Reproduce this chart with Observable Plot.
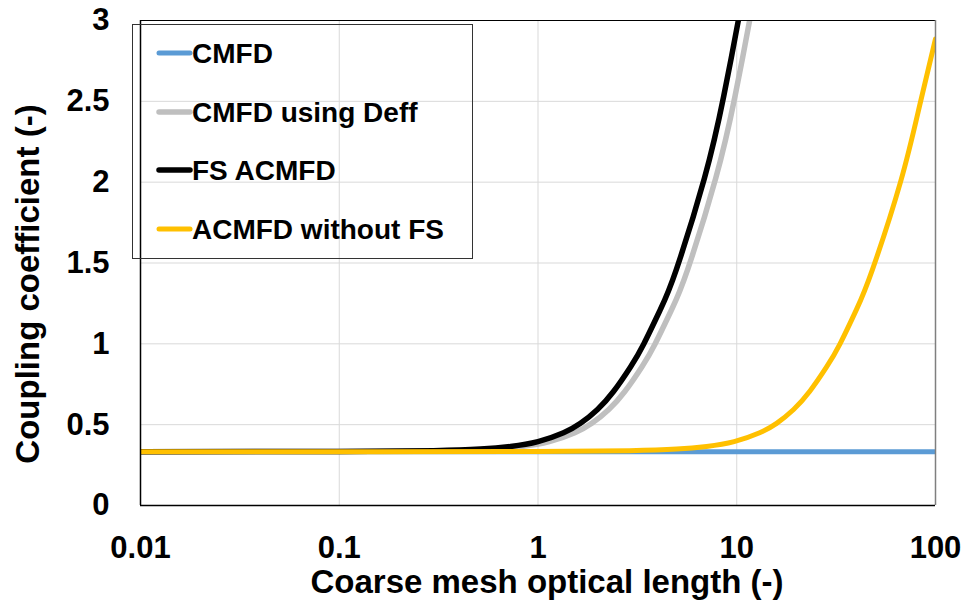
<!DOCTYPE html>
<html>
<head>
<meta charset="utf-8">
<script src="https://cdn.jsdelivr.net/npm/d3@7"></script>
<script src="https://cdn.jsdelivr.net/npm/@observablehq/plot@0.6"></script>
<style>
  html, body { margin: 0; padding: 0; background: #fff; }
  svg { display: block; }
</style>
</head>
<body>
<div id="chart"></div>
<script>
// ---- data ----
const xTicks = [0.01, 0.1, 1, 10, 100];
const xTickLabels = ["0.01", "0.1", "1", "10", "100"];
const yTicks = [0, 0.5, 1, 1.5, 2, 2.5, 3];
const yTickLabels = ["0", "0.5", "1", "1.5", "2", "2.5", "3"];

const seriesNames = ["CMFD", "CMFD using Deff", "FS ACMFD", "ACMFD without FS"];
const seriesColors = ["#5B9BD5", "#BFBFBF", "#000000", "#FFC000"];
const seriesWidths = [5, 5.5, 5.5, 5];

const cmfdX = [0.01, 0.1, 1, 10, 100];
const cmfdY = [0.333, 0.333, 0.333, 0.333, 0.333];

const deffX = [0.01, 0.114, 0.34, 0.586, 0.829, 1.14, 1.532, 1.865, 2.271, 2.734, 3.329, 3.887, 4.708, 5.666, 7.832, 9.804, 11.74, 12.54];
const deffY = [0.333, 0.334, 0.339, 0.349, 0.365, 0.395, 0.45, 0.508, 0.594, 0.705, 0.857, 1.001, 1.213, 1.461, 2.022, 2.532, 3.033, 3.24];

const fsX = [0.01, 0.1, 0.298, 0.514, 0.727, 1, 1.344, 1.636, 1.992, 2.398, 2.92, 3.41, 4.13, 4.97, 6.87, 8.6, 10.3, 11.0];
const fsY = [0.333, 0.334, 0.339, 0.349, 0.365, 0.395, 0.45, 0.508, 0.594, 0.705, 0.857, 1.001, 1.213, 1.461, 2.022, 2.532, 3.033, 3.24];

const acmX = [0.01, 0.1, 0.97, 2.89, 4.99, 7.05, 9.7, 13.04, 15.87, 19.32, 23.26, 28.32, 33.08, 40.06, 48.21, 66.64, 83.42, 100];
const acmY = [0.333, 0.333, 0.334, 0.339, 0.349, 0.365, 0.395, 0.45, 0.508, 0.594, 0.705, 0.857, 1.0, 1.213, 1.461, 2.0, 2.48, 2.886];

// ---- build tables ----
const toRows = (xs, ys) => xs.map((x, i) => ({x, y: ys[i]}));
const series = [toRows(cmfdX, cmfdY), toRows(deffX, deffY), toRows(fsX, fsY), toRows(acmX, acmY)];

const FONT = "'Liberation Sans', Arial, Helvetica, sans-serif";

const lineOpts = (i) => ({x: "x", y: "y", stroke: seriesColors[i], strokeWidth: seriesWidths[i], curve: "natural", clip: true, strokeLinecap: "round", strokeLinejoin: "round"});

const svg = Plot.plot({
  width: 966,
  height: 610,
  marginLeft: 140,
  marginRight: 31,
  marginTop: 20,
  marginBottom: 105,
  style: {fontFamily: FONT, fontWeight: "bold", fontSize: "31px", background: "#fff", color: "#000", overflow: "visible"},
  x: {type: "log", domain: [0.01, 100], ticks: xTicks, tickFormat: d => xTickLabels[xTicks.indexOf(d)], tickSize: 0, tickPadding: 30, label: null},
  y: {domain: [0, 3], ticks: yTicks, tickFormat: d => yTickLabels[yTicks.indexOf(d)], tickSize: 0, tickPadding: 31, label: null},
  marks: [
    Plot.ruleX(xTicks, {stroke: "#d9d9d9", strokeWidth: 1}),
    Plot.ruleY(yTicks, {stroke: "#d9d9d9", strokeWidth: 1}),
    ...series.map((rows, i) => Plot.line(rows, lineOpts(i))),
    Plot.ruleY([3], {stroke: "#000", strokeWidth: 1}),
    Plot.ruleX([100], {stroke: "#7f7f7f", strokeWidth: 1.5}),
    Plot.ruleX([0.01], {stroke: "#000", strokeWidth: 1.5}),
    Plot.ruleY([0], {stroke: "#000", strokeWidth: 1.5})
  ]
});

const s = d3.select(svg);

// axis titles
s.append("text")
  .attr("x", 547).attr("y", 593)
  .attr("text-anchor", "middle")
  .style("font-family", FONT).style("font-weight", "bold").style("font-size", "33px")
  .attr("fill", "#000")
  .text("Coarse mesh optical length (-)");

s.append("text")
  .attr("transform", "translate(39,284) rotate(-90)")
  .attr("text-anchor", "middle")
  .style("font-family", FONT).style("font-weight", "bold").style("font-size", "33px")
  .attr("fill", "#000")
  .text("Coupling coefficient (-)");

// legend
const lg = s.append("g");
lg.append("rect")
  .attr("x", 132.5).attr("y", 24.5).attr("width", 340).attr("height", 234)
  .attr("fill", "none").attr("stroke", "#333").attr("stroke-width", 1);
const legendY = [53, 112, 170, 229];
seriesNames.forEach((name, i) => {
  lg.append("line")
    .attr("x1", 159).attr("x2", 190).attr("y1", legendY[i]).attr("y2", legendY[i])
    .attr("stroke", seriesColors[i]).attr("stroke-width", seriesWidths[i]).attr("stroke-linecap", "round");
  lg.append("text")
    .attr("x", 192).attr("y", legendY[i] + 10)
    .attr("text-anchor", "start")
    .style("text-anchor", "start")
    .style("font-family", FONT).style("font-weight", "bold").style("font-size", "28px")
    .attr("fill", "#000")
    .text(name);
});

document.getElementById("chart").appendChild(svg);
</script>
</body>
</html>
